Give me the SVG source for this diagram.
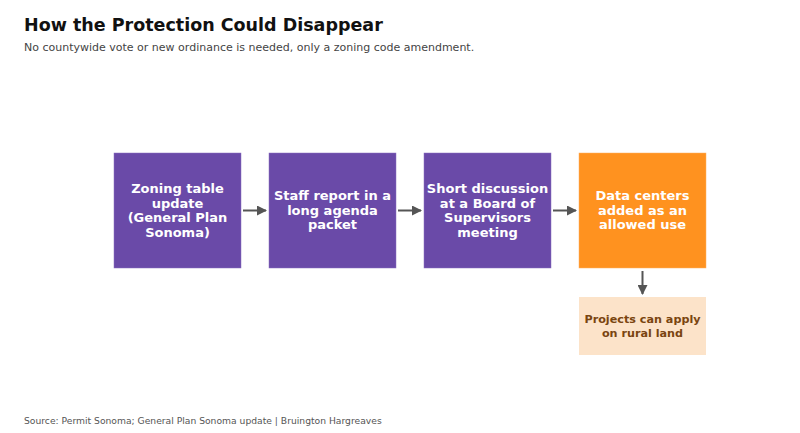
<svg xmlns="http://www.w3.org/2000/svg" width="800" height="433" viewBox="0 0 800 433">
<style>
text{font-family:"DejaVu Sans",sans-serif}
.title{font-size:17.5px;font-weight:bold;fill:#111}
.sub{font-size:11px;fill:#444}
.foot{font-size:9.2px;fill:#555}
.nt{font-size:13px;font-weight:bold;fill:#fff;text-anchor:middle}
.nt2{font-size:11.2px;font-weight:bold;fill:#7a4510;text-anchor:middle}
.p{fill:#6a4aa8;stroke:#8a70c0;stroke-width:0.5}
.o{fill:#ff921f;stroke:#ffb060;stroke-width:0.5}
.l{fill:#fce3c9}
.c{stroke:#555;stroke-width:2;fill:none;marker-end:url(#ah)}
</style>
<defs>
<marker id="ah" viewBox="0 0 10 10" refX="9" refY="5" markerWidth="5" markerHeight="5" orient="auto" markerUnits="strokeWidth">
<path d="M0,0 L10,5 L0,10 z" fill="#555"/>
</marker>
</defs>
<rect width="800" height="433" fill="#fff"/>
<text class="title" x="24" y="31">How the Protection Could Disappear</text>
<text class="sub" x="24" y="51">No countywide vote or new ordinance is needed, only a zoning code amendment.</text>
<g id="n1">
<rect class="p" x="114" y="153" width="127" height="115"/>
<text class="nt" x="177.5" y="193">Zoning table</text>
<text class="nt" x="177.5" y="207.5">update</text>
<text class="nt" x="177.5" y="222">(General Plan</text>
<text class="nt" x="177.5" y="236.5">Sonoma)</text>
</g>
<g id="n2">
<rect class="p" x="269" y="153" width="127" height="115"/>
<text class="nt" x="332.5" y="200">Staff report in a</text>
<text class="nt" x="332.5" y="214.5">long agenda</text>
<text class="nt" x="332.5" y="229">packet</text>
</g>
<g id="n3">
<rect class="p" x="424" y="153" width="127" height="115"/>
<text class="nt" x="487.5" y="193">Short discussion</text>
<text class="nt" x="487.5" y="207.5">at a Board of</text>
<text class="nt" x="487.5" y="222">Supervisors</text>
<text class="nt" x="487.5" y="236.5">meeting</text>
</g>
<g id="n4">
<rect class="o" x="579" y="153" width="127" height="115"/>
<text class="nt" x="642.5" y="200">Data centers</text>
<text class="nt" x="642.5" y="214.5">added as an</text>
<text class="nt" x="642.5" y="229">allowed use</text>
</g>
<g id="n5">
<rect class="l" x="579" y="297" width="127" height="58"/>
<text class="nt2" x="642.5" y="323">Projects can apply</text>
<text class="nt2" x="642.5" y="337">on rural land</text>
</g>
<g id="connectors">
<line class="c" x1="243" y1="210.5" x2="266" y2="210.5"/>
<line class="c" x1="398" y1="210.5" x2="421" y2="210.5"/>
<line class="c" x1="553" y1="210.5" x2="576" y2="210.5"/>
<line class="c" x1="642.5" y1="271" x2="642.5" y2="294"/>
</g>
<text class="foot" x="24" y="424">Source: Permit Sonoma; General Plan Sonoma update | Bruington Hargreaves</text>
</svg>
